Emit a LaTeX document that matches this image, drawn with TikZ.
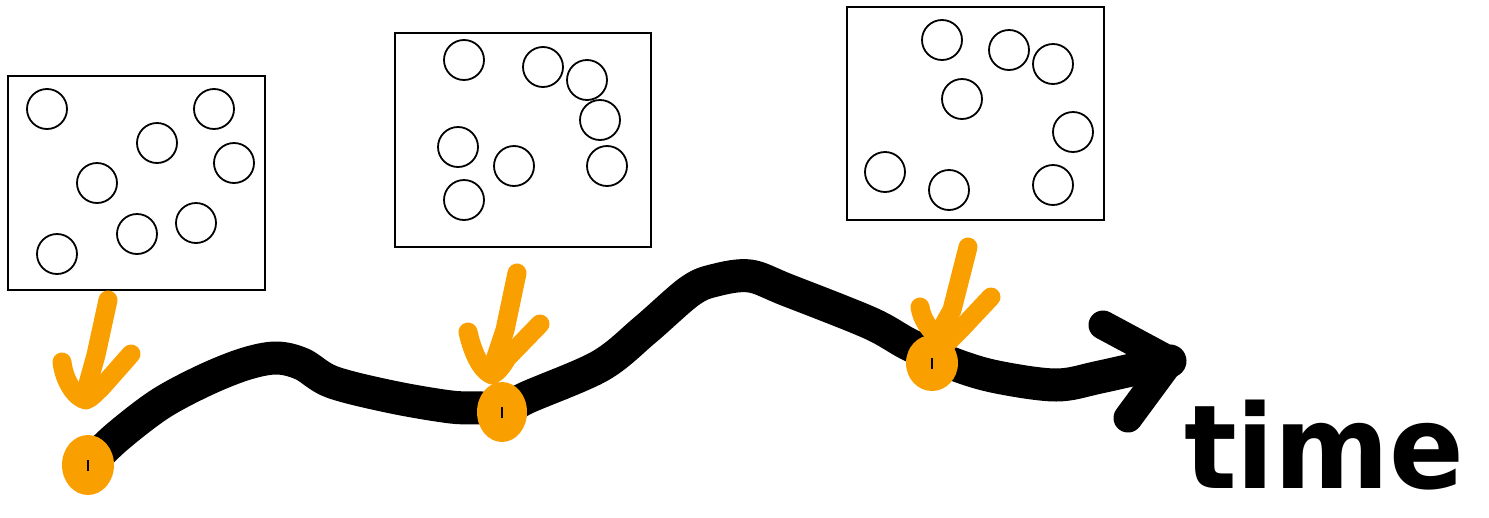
\documentclass[tikz,border=0pt]{standalone}
\usepackage{fontspec}
\newfontfamily\handfont{DejaVu Sans}
\usetikzlibrary{shapes.geometric}
\definecolor{marker}{RGB}{249,160,0}
\tikzset{
  frame/.style={draw=black, line width=2pt},
  ball/.style={circle, draw=black, line width=1.8pt, minimum size=40pt, inner sep=0pt},
  path stroke/.style={line width=33pt, line cap=round, line join=round, black},
  pointer/.style={line width=19pt, line cap=round, line join=round, draw=marker},
  spot/.style={ellipse, fill=marker, inner sep=0pt},
  tick/.style={line width=2pt, black}
}
\begin{document}
\begin{tikzpicture}[x=1pt, y=-1pt]
\useasboundingbox (0,0) rectangle (1489,517);

% snapshot frames
\draw[frame] (8,76) rectangle (265,290);
\draw[frame] (395,33) rectangle (651,247);
\draw[frame] (847,7) rectangle (1104,220);

% particles, first frame
\foreach \p [count=\i] in {(47,109),(214,109),(157,143),(234,163),(97,183),(196,223),(137,234),(57,254)}
  \node[ball] (a\i) at \p {};
% particles, second frame
\foreach \p [count=\i] in {(464,60),(543,67),(587,80),(600,120),(458,147),(514,166),(607,166),(464,200)}
  \node[ball] (b\i) at \p {};
% particles, third frame
\foreach \p [count=\i] in {(942,40),(1009,50),(1053,64),(962,99),(1073,132),(885,172),(949,190),(1053,185)}
  \node[ball] (c\i) at \p {};

% sample points on the trajectory
\coordinate (d1) at (88,465);
\coordinate (d2) at (502,412);
\coordinate (d3) at (932,363);
\coordinate (tip) at (1170,361);

% trajectory through time
\draw[path stroke] plot[smooth, tension=0.55] coordinates {
  (d1) (117,437) (160,404) (205,380) (245,364) (276,358) (302,364) (332,382)
  (392,397) (451,407) (482,408) (d2) (526,398) (600,366) (645,330) (690,291)
  (716,280) (750,276) (787,290) (870,323) (910,345) (956,365) (997,377)
  (1056,385) (1100,377) (tip)};
\draw[path stroke, line width=29pt] (1103,325) -- (tip) -- (1128,418);

% orange markers
\node[spot, minimum width=52pt, minimum height=60pt] (s1) at (d1) {};
\node[spot, minimum width=50pt, minimum height=60pt] (s2) at (d2) {};
\node[spot, minimum width=52pt, minimum height=56pt] (s3) at (d3) {};
\draw[tick] ([yshift=-6pt]s1.center) -- ([yshift=5pt]s1.center);
\draw[tick] ([yshift=-6pt]s2.center) -- ([yshift=5pt]s2.center);
\draw[tick] ([yshift=-6pt]s3.center) -- ([yshift=5pt]s3.center);

% arrows pointing at the sample points
\draw[pointer] (108,300) -- (96,355) -- (84,398);
\draw[pointer] (62,362) .. controls (64,380) and (75,398) .. (86,400)
  .. controls (92,398) and (96,392) .. (101,388) -- (131,354);
\draw[pointer] (517,273) -- (505,330) -- (491,372);
\draw[pointer] (468,332) .. controls (472,350) and (480,370) .. (492,375)
  .. controls (498,372) and (503,365) .. (507,358) -- (540,324);
\draw[pointer] (968,247) -- (952,310) -- (938,335);
\draw[pointer] (920,307) .. controls (922,320) and (930,330) .. (937,336);
\draw[pointer] (991,297) -- (960,330) -- (945,345);

% axis label
\node[anchor=base west, inner sep=0pt, xscale=1.06, yscale=1.12] (label) at (1184,488)
  {\handfont\bfseries\fontsize{104}{104}\selectfont time};
\end{tikzpicture}
\end{document}
